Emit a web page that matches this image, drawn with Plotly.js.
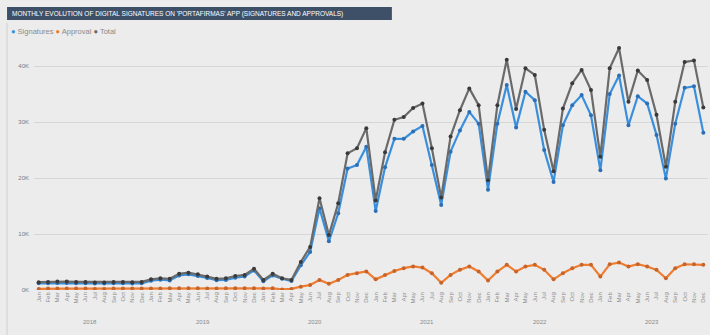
<!DOCTYPE html>
<html>
<head>
<meta charset="utf-8">
<script src="https://cdn.plot.ly/plotly-3.0.1.min.js"></script>
<style>
  html, body { margin: 0; padding: 0; background: #ececec; }
  #chart { width: 710px; height: 335px; }
</style>
</head>
<body>
<div id="chart"></div>
<script>
// Monthly counts, Jan 2018 – Dec 2023
const years = [2018, 2019, 2020, 2021, 2022, 2023];
const months = ['Jan', 'Feb', 'Mar', 'Apr', 'May', 'Jun', 'Jul', 'Aug', 'Sep', 'Oct', 'Nov', 'Dec'];

const signatures = [
  1200, 1200, 1250, 1250, 1200, 1200, 1150, 1150, 1200, 1200, 1150, 1200,
  1650, 1850, 1700, 2600, 2800, 2500, 2150, 1750, 1800, 2200, 2400, 3500,
  1550, 2600, 2000, 1600, 4400, 6800, 14600, 8700, 13700, 21700, 22300, 25600,
  14100, 21900, 27000, 27000, 28300, 29300, 22300, 15200, 24700, 28500, 31800, 29700,
  17900, 29700, 36600, 29000, 35400, 33900, 25000, 19300, 29400, 33000, 34800, 31200,
  21400, 35000, 38300, 29400, 34600, 33300, 27700, 19900, 29700, 36100, 36400, 28100
];

const approvals = [
  200, 250, 250, 250, 250, 250, 200, 200, 250, 250, 250, 250,
  250, 250, 300, 300, 300, 300, 250, 250, 300, 300, 300, 300,
  250, 300, 100, 200, 600, 900, 1800, 1100, 1800, 2700, 3000, 3300,
  1900, 2700, 3400, 3900, 4200, 4000, 3000, 1300, 2700, 3600, 4200, 3300,
  1700, 3300, 4500, 3300, 4200, 4500, 3600, 1900, 3000, 3900, 4500, 4500,
  2400, 4600, 4900, 4200, 4600, 4200, 3600, 2100, 3900, 4600, 4600, 4500
];

const totals = [
  1400, 1450, 1500, 1500, 1450, 1450, 1350, 1350, 1450, 1450, 1400, 1450,
  1900, 2100, 2000, 2900, 3100, 2800, 2400, 2000, 2100, 2500, 2700, 3800,
  1800, 2900, 2100, 1800, 5000, 7700, 16400, 9800, 15500, 24400, 25300, 28900,
  16000, 24600, 30400, 30900, 32500, 33300, 25300, 16500, 27400, 32100, 36000, 33000,
  19600, 33000, 41100, 32300, 39600, 38400, 28600, 21200, 32400, 36900, 39300, 35700,
  23800, 39600, 43200, 33600, 39200, 37500, 31300, 22000, 33600, 40700, 41000, 32600
];

const seriesNames = ['Signatures', 'Approval', 'Total'];
const seriesColors = ['#3a8fdc', '#ef7d30', '#6a6a6a'];
const markerColors = ['#2c6fb5', '#c8642a', '#3a3a3a'];

const yTickVals = [0, 10000, 20000, 30000, 40000];
const yTickText = ['0K', '10K', '20K', '30K', '40K'];

const chartTitle = "MONTHLY EVOLUTION OF DIGITAL SIGNATURES ON 'PORTAFIRMAS' APP (SIGNATURES AND APPROVALS)";

// Category positions and month labels
const xIndex = [];
const xLabels = [];
years.forEach((y, yi) => {
  months.forEach((m, mi) => {
    xIndex.push(yi * 12 + mi);
    xLabels.push(m);
  });
});

const seriesValues = [signatures, approvals, totals];
const traces = seriesValues.map((vals, i) => ({
  type: 'scatter',
  mode: 'lines+markers',
  name: seriesNames[i],
  x: xIndex,
  y: vals,
  line: { color: seriesColors[i], width: 2.2 },
  marker: { color: markerColors[i], size: 4 },
  hoverinfo: 'x+y+name'
}));

// Year group labels centred under each block of twelve months
const yearAnnotations = years.map((y, yi) => ({
  x: yi * 12 + 5.5, xref: 'x',
  y: -0.127, yref: 'paper',
  text: String(y),
  showarrow: false,
  font: { size: 6, color: '#8a8a8a' },
  xanchor: 'center', yanchor: 'middle'
}));

// Compact legend line: coloured dot followed by the series name
const legendText = seriesNames.map((n, i) =>
  '<span style="color:' + seriesColors[i] + '">●</span> ' + n
).join(' ');

const layout = {
  width: 710,
  height: 335,
  paper_bgcolor: '#ececec',
  plot_bgcolor: '#ececec',
  margin: { l: 34, r: 2, t: 38, b: 45 },
  showlegend: false,
  font: { family: 'Liberation Sans, Arial, sans-serif', color: '#808080' },
  xaxis: {
    range: [-0.5, 71.5],
    tickmode: 'array',
    tickvals: xIndex,
    ticktext: xLabels,
    tickangle: -90,
    tickfont: { size: 6, color: '#8c8c8c' },
    showgrid: false,
    zeroline: false,
    showline: false,
    ticks: ''
  },
  yaxis: {
    range: [0, 45000],
    tickmode: 'array',
    tickvals: yTickVals,
    ticktext: yTickText,
    tickfont: { size: 6, color: '#7a7a7a' },
    gridcolor: '#d6d6d6',
    gridwidth: 1,
    zeroline: false,
    showline: false,
    ticks: '',
    ticklabelstandoff: 4
  },
  shapes: [
    {
      type: 'rect', xref: 'paper', yref: 'paper',
      x0: -0.04, x1: 0.531, y0: 1.071, y1: 1.123,
      fillcolor: '#3e5068', line: { width: 0 }, layer: 'above'
    },
    {
      type: 'line', xref: 'paper', yref: 'paper',
      x0: -0.04, x1: -0.04, y0: -0.2, y1: 1.06,
      line: { color: '#d0d0d0', width: 1 }
    }
  ],
  annotations: [
    {
      x: -0.036, xref: 'paper', y: 1.097, yref: 'paper',
      text: chartTitle, showarrow: false,
      xanchor: 'left', yanchor: 'middle',
      font: { size: 6.5, color: '#ffffff' }
    },
    {
      x: -0.037, xref: 'paper', y: 1.024, yref: 'paper',
      text: legendText, showarrow: false,
      xanchor: 'left', yanchor: 'middle',
      font: { size: 7.5, color: '#8a8a8a' }
    }
  ].concat(yearAnnotations)
};

Plotly.newPlot('chart', traces, layout, { displayModeBar: false, staticPlot: true });
</script>
</body>
</html>
